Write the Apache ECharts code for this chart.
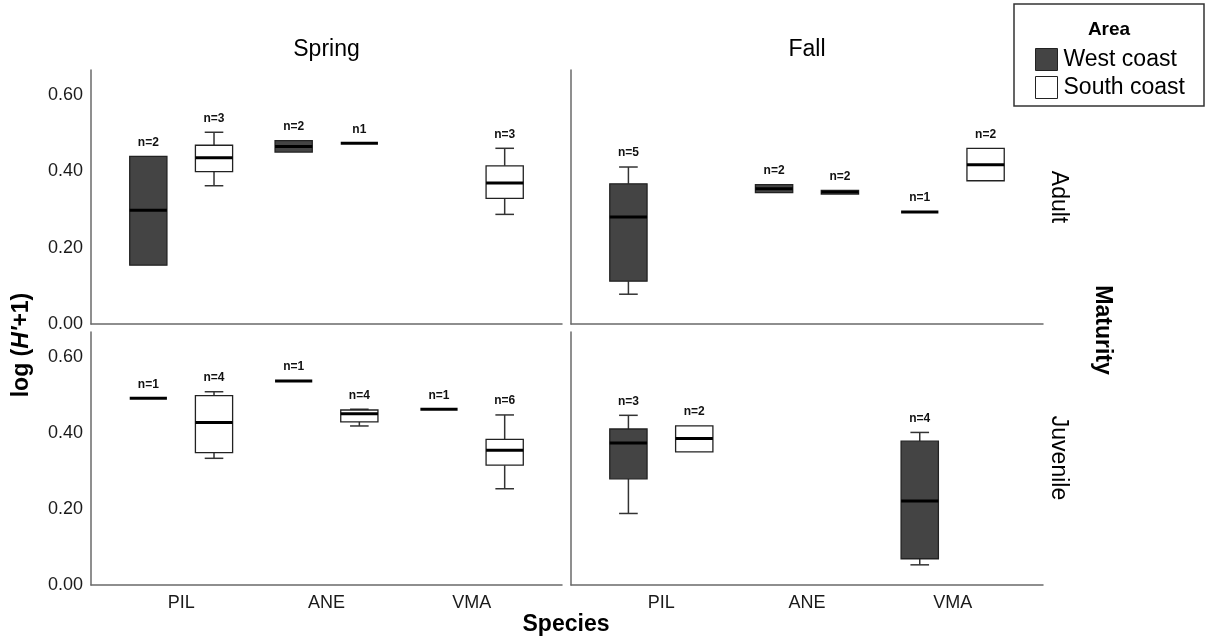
<!DOCTYPE html>
<html><head><meta charset="utf-8">
<script src="https://cdn.jsdelivr.net/npm/echarts@6/dist/echarts.min.js"></script>
<style>html,body{margin:0;padding:0;background:#fff}#c{width:1211px;height:641px}</style>
</head><body><div id="c"></div>
<script>
const categories = ['PIL', 'ANE', 'VMA'];
const areas = ['West coast', 'South coast'];
const seasons = ['Spring', 'Fall'];
const maturities = ['Adult', 'Juvenile'];
const yTicks = [0, 0.2, 0.4, 0.6];
const yMax = 0.665;

// per species: [min, Q1, median, Q3, max]; null = no sample
const springAdultWest   = [[0.154,0.154,0.298,0.439,0.439],[0.450,0.450,0.465,0.480,0.480],null];
const springAdultWestN  = ['n=2','n=2',null];
const springAdultSouth  = [[0.362,0.399,0.435,0.468,0.502],[0.473,0.473,0.473,0.473,0.473],[0.287,0.329,0.369,0.414,0.460]];
const springAdultSouthN = ['n=3','n1','n=3'];
const fallAdultWest     = [[0.078,0.112,0.280,0.367,0.411],[0.344,0.344,0.354,0.365,0.365],[0.293,0.293,0.293,0.293,0.293]];
const fallAdultWestN    = ['n=5','n=2','n=1'];
const fallAdultSouth    = [null,[0.340,0.340,0.345,0.350,0.350],[0.375,0.375,0.417,0.460,0.460]];
const fallAdultSouthN   = [null,'n=2','n=2'];
const springJuvWest     = [[0.491,0.491,0.491,0.491,0.491],[0.536,0.536,0.536,0.536,0.536],[0.462,0.462,0.462,0.462,0.462]];
const springJuvWestN    = ['n=1','n=1','n=1'];
const springJuvSouth    = [[0.333,0.348,0.427,0.498,0.508],[0.418,0.429,0.450,0.460,0.462],[0.253,0.315,0.354,0.383,0.447]];
const springJuvSouthN   = ['n=4','n=4','n=6'];
const fallJuvWest       = [[0.188,0.279,0.373,0.410,0.446],null,[0.053,0.069,0.221,0.378,0.401]];
const fallJuvWestN      = ['n=3',null,'n=4'];
const fallJuvSouth      = [[0.350,0.350,0.385,0.418,0.418],null,null];
const fallJuvSouthN     = ['n=2',null,null];

const panels = [
  {col:0,row:0,west:springAdultWest,westN:springAdultWestN,south:springAdultSouth,southN:springAdultSouthN},
  {col:1,row:0,west:fallAdultWest,westN:fallAdultWestN,south:fallAdultSouth,southN:fallAdultSouthN},
  {col:0,row:1,west:springJuvWest,westN:springJuvWestN,south:springJuvSouth,southN:springJuvSouthN},
  {col:1,row:1,west:fallJuvWest,westN:fallJuvWestN,south:fallJuvSouth,southN:fallJuvSouthN}
];

const FONT = '"Liberation Sans", Arial, Helvetica, sans-serif';
const colLeft = [91, 571], colWidth = [471, 472];
const rowTop = [70, 332], rowHeight = [254, 253];
const inset = 17.5;
const fills = ['#444444', '#ffffff'];

const grids = [], xAxes = [], yAxes = [], series = [];
panels.forEach((p) => {
  grids.push({left: colLeft[p.col], top: rowTop[p.row], width: colWidth[p.col], height: rowHeight[p.row]});
});
panels.forEach((p) => {
  grids.push({left: colLeft[p.col] + inset, top: rowTop[p.row], width: colWidth[p.col] - 2*inset, height: rowHeight[p.row]});
});
const axisLineStyle = {show: true, lineStyle: {color: '#6a6a6a', width: 1.5}};
panels.forEach((p, i) => {
  xAxes.push({gridIndex: i, type: 'value', min: 0, max: 1, axisLine: axisLineStyle, axisTick: {show:false}, axisLabel: {show:false}, splitLine: {show:false}});
  yAxes.push({gridIndex: i, type: 'value', min: 0, max: yMax, interval: 0.2, axisLine: axisLineStyle, axisTick: {show:false},
    splitLine: {show:false},
    axisLabel: {show: p.col === 0, showMaxLabel: false, margin: 8, color: '#1a1a1a', fontSize: 18, fontFamily: FONT,
      formatter: (v) => yTicks.some(t => Math.abs(t - v) < 1e-6) ? v.toFixed(2) : ''}});
});
panels.forEach((p, i) => {
  xAxes.push({gridIndex: 4 + i, type: 'category', data: categories, boundaryGap: true, axisLine: {show:false}, axisTick: {show:false},
    splitLine: {show:false},
    axisLabel: {show: p.row === 1, margin: 9, color: '#1a1a1a', fontSize: 18, fontFamily: FONT}});
  yAxes.push({gridIndex: 4 + i, type: 'value', min: 0, max: yMax, show: false});
});

function makeRender(side, labels, fill) {
  return function (params, api) {
    const c = api.value(0);
    const v = [1, 2, 3, 4, 5].map(k => api.value(k));
    const band = api.size([1, 0])[0];
    const cx = api.coord([c, 0])[0] + side * band * 0.226;
    const bw = band * 0.256;
    const y = v.map(val => api.coord([c, val])[1]);
    const ch = [];
    const ws = {stroke: '#333', lineWidth: 1.5};
    if (v[4] > v[3] + 1e-9) {
      ch.push({type: 'line', shape: {x1: cx, y1: y[4], x2: cx, y2: y[3]}, style: ws});
      ch.push({type: 'line', shape: {x1: cx - bw/4, y1: y[4], x2: cx + bw/4, y2: y[4]}, style: ws});
    }
    if (v[0] < v[1] - 1e-9) {
      ch.push({type: 'line', shape: {x1: cx, y1: y[1], x2: cx, y2: y[0]}, style: ws});
      ch.push({type: 'line', shape: {x1: cx - bw/4, y1: y[0], x2: cx + bw/4, y2: y[0]}, style: ws});
    }
    if (v[3] > v[1] + 1e-9) {
      ch.push({type: 'rect', shape: {x: cx - bw/2, y: y[3], width: bw, height: y[1] - y[3]}, style: {fill: fill, stroke: '#222', lineWidth: 1.3}});
    }
    ch.push({type: 'line', shape: {x1: cx - bw/2, y1: y[2], x2: cx + bw/2, y2: y[2]}, style: {stroke: '#000', lineWidth: 3}});
    ch.push({type: 'text', style: {text: labels[params.dataIndex], x: cx, y: y[4] - 8, align: 'center', verticalAlign: 'bottom',
      font: 'bold 12px ' + FONT, fill: '#111'}});
    return {type: 'group', children: ch};
  };
}

panels.forEach((p, i) => {
  [[p.west, p.westN], [p.south, p.southN]].forEach((pair, a) => {
    const data = [], labels = [];
    pair[0].forEach((d, k) => { if (d) { data.push([k].concat(d)); labels.push(pair[1][k]); } });
    series.push({
      type: 'custom', name: areas[a], xAxisIndex: 4 + i, yAxisIndex: 4 + i,
      itemStyle: {color: fills[a], borderColor: '#222', borderWidth: 1},
      encode: {x: 0, y: [1, 2, 3, 4, 5]},
      renderItem: makeRender(a === 0 ? -1 : 1, labels, fills[a]),
      data: data, silent: true
    });
  });
});

const txt = (text, x, y, font, rot) => ({type: 'text', x: x, y: y, rotation: rot || 0,
  style: {text: text, align: 'center', verticalAlign: 'middle', font: font, fill: '#000'}});

const option = {
  animation: false,
  backgroundColor: '#ffffff',
  grid: grids, xAxis: xAxes, yAxis: yAxes, series: series,
  legend: {
    left: 1035, top: 48, orient: 'vertical', itemWidth: 22, itemHeight: 22, itemGap: 5, selectedMode: false,
    icon: 'rect', padding: 0,
    textStyle: {fontSize: 23, fontFamily: FONT, color: '#000', padding: [0, 0, 0, 1]},
    data: [
      {name: areas[0], itemStyle: {color: fills[0], borderColor: '#222', borderWidth: 1}},
      {name: areas[1], itemStyle: {color: fills[1], borderColor: '#222', borderWidth: 1}}
    ]
  },
  graphic: [
    {type: 'rect', shape: {x: 1014, y: 4, width: 190, height: 102}, style: {fill: 'none', stroke: '#333', lineWidth: 1.5}},
    txt('Area', 1109, 30, 'bold 19px ' + FONT),
    txt(seasons[0], 326.5, 50, '23px ' + FONT),
    txt(seasons[1], 807, 50, '23px ' + FONT),
    txt(maturities[0], 1058, 197, '23px ' + FONT, -Math.PI / 2),
    txt(maturities[1], 1058, 458, '23px ' + FONT, -Math.PI / 2),
    txt('Maturity', 1102, 330, 'bold 23px ' + FONT, -Math.PI / 2),
    txt('Species', 566, 625, 'bold 23px ' + FONT),
    {type: 'text', x: 22, y: 345, rotation: Math.PI / 2,
      style: {text: '{b|log (}{bi|H\u2032}{b|+1)}', align: 'center', verticalAlign: 'middle', fill: '#000',
        rich: {b: {font: 'bold 23px ' + FONT, fill: '#000'}, bi: {font: 'italic bold 23px ' + FONT, fill: '#000'}}}}
  ]
};
const chart = echarts.init(document.getElementById('c'), null, {renderer: 'canvas'});
chart.setOption(option);
</script></body></html>
